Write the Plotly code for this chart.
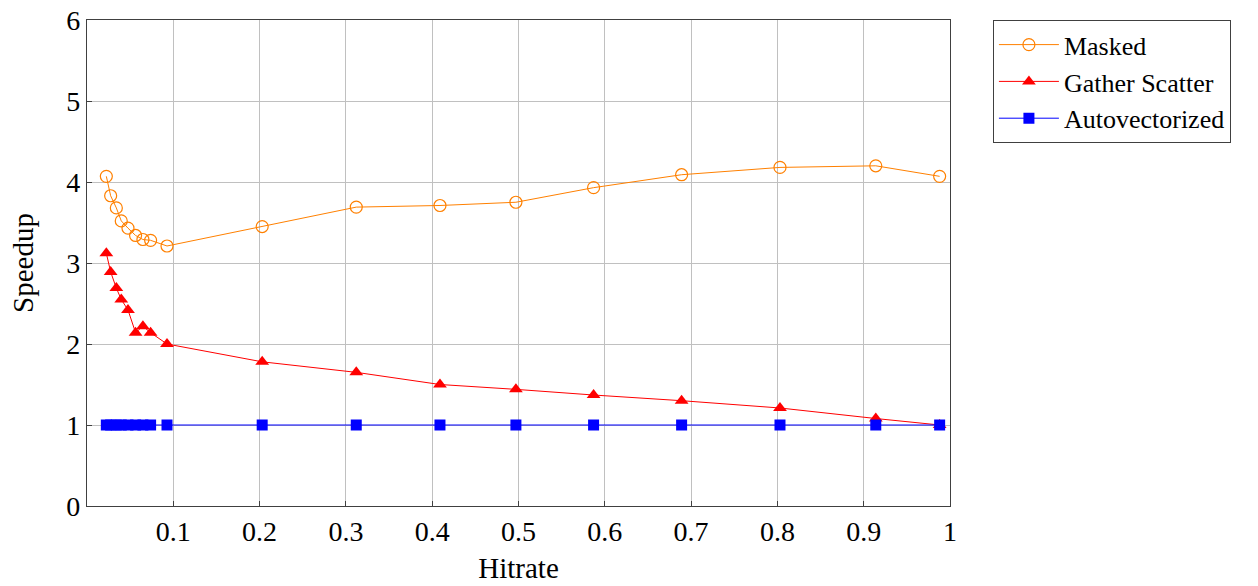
import plotly.graph_objects as go

hitrate = [0.0224, 0.0274, 0.034, 0.0397, 0.0475, 0.0563, 0.0648, 0.0737, 0.0927,
           0.203, 0.312, 0.409, 0.497, 0.587, 0.689, 0.803, 0.914, 0.988]
masked = [4.07, 3.83, 3.68, 3.52, 3.43, 3.34, 3.29, 3.28, 3.21,
          3.45, 3.69, 3.71, 3.75, 3.93, 4.09, 4.18, 4.20, 4.07]
gather_scatter = [3.12, 2.89, 2.69, 2.55, 2.42, 2.14, 2.22, 2.14, 2.00,
                  1.78, 1.65, 1.50, 1.44, 1.37, 1.30, 1.21, 1.08, 1.00]
autovectorized = [1.0] * len(hitrate)

x_ticks = [0.1, 0.2, 0.3, 0.4, 0.5, 0.6, 0.7, 0.8, 0.9, 1.0]
x_tick_labels = ["0.1", "0.2", "0.3", "0.4", "0.5", "0.6", "0.7", "0.8", "0.9", "1"]
y_ticks = [0, 1, 2, 3, 4, 5, 6]

FONT = "Liberation Serif"

fig = go.Figure()
fig.add_trace(go.Scatter(
    x=hitrate, y=masked, name="Masked", mode="lines+markers",
    line=dict(color="#ff8000", width=1),
    marker=dict(symbol="circle-open", size=12, color="#ff8000", line=dict(width=1.2)),
))
fig.add_trace(go.Scatter(
    x=hitrate, y=gather_scatter, name="Gather Scatter", mode="lines+markers",
    line=dict(color="#ff0000", width=1),
    marker=dict(symbol="triangle-up", size=12, color="#ff0000"),
))
fig.add_trace(go.Scatter(
    x=hitrate, y=autovectorized, name="Autovectorized", mode="lines+markers",
    line=dict(color="#0000ff", width=1),
    marker=dict(symbol="square", size=11, color="#0000ff"),
))

axis_common = dict(
    showgrid=True, gridcolor="#c0c0c0", gridwidth=1,
    showline=True, linecolor="#404040", linewidth=1.2, mirror=True,
    ticks="inside", ticklen=5, tickcolor="#404040",
    zeroline=False, automargin=False,
    tickfont=dict(family=FONT, size=28, color="black"),
)

fig.update_layout(
    width=1258, height=586,
    margin=dict(l=87, r=308, t=20, b=80, autoexpand=False),
    paper_bgcolor="white", plot_bgcolor="white",
    font=dict(family=FONT, size=28, color="black"),
    xaxis=dict(range=[0, 1], tickvals=x_ticks, ticktext=x_tick_labels,
               title=dict(text="Hitrate", font=dict(family=FONT, size=29), standoff=11),
               **axis_common),
    yaxis=dict(range=[0, 6], tickvals=y_ticks,
               title=dict(text="Speedup", font=dict(family=FONT, size=29), standoff=24),
               **axis_common),
    legend=dict(x=1.0495, y=1.0, xanchor="left", yanchor="top",
                bordercolor="#404040", borderwidth=1.2, bgcolor="white",
                font=dict(family=FONT, size=26), itemwidth=60,
                tracegroupgap=0),
)

fig.write_html("out.html", config={"displayModeBar": False},
               post_script="document.body.style.margin='0';")
